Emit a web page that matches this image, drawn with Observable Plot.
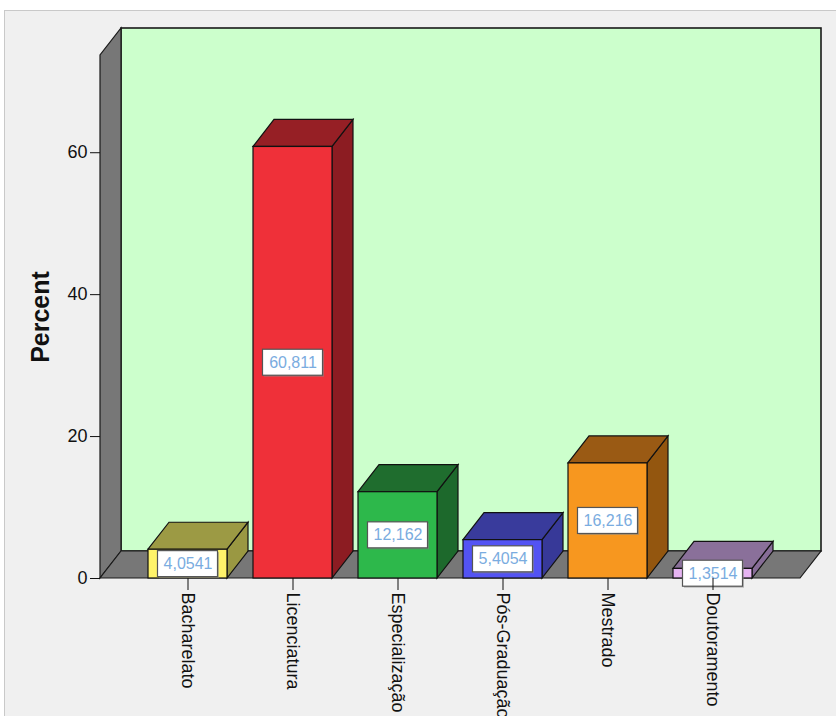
<!DOCTYPE html>
<html>
<head>
<meta charset="utf-8">
<script src="https://cdn.jsdelivr.net/npm/d3@7"></script>
<script src="https://cdn.jsdelivr.net/npm/@observablehq/plot@0.6"></script>
<style>
  html, body { margin: 0; padding: 0; background: #fff; }
  #panel {
    position: absolute; left: 4px; top: 10px;
    width: 832px; height: 706px;
    background: #f0f0f0;
    border-top: 1px solid #c9c9c9; border-left: 1px solid #c9c9c9;
  }
  #panel svg { display: block; }
</style>
</head>
<body>
<div id="panel"></div>
<script>
// Education level distribution (percent of respondents)
const categories = ["Bacharelato", "Licenciatura", "Especialização", "Pós-Graduação", "Mestrado", "Doutoramento"];
const percents = [4.0541, 60.811, 12.162, 5.4054, 16.216, 1.3514];
const frontColors = ["#fff36a", "#ef3039", "#2db84b", "#5353f3", "#f7971f", "#e6b4f2"];
const topColors = ["#9c9a44", "#961f25", "#1f6d2e", "#393b9c", "#9a5a14", "#8a709a"];
const sideColors = ["#9a9842", "#8c1c22", "#1d692c", "#373998", "#93560f", "#866c96"];
const yTicks = [0, 20, 40, 60];
const yMax = 73.7;

// pixel depth of the 3-D extrusion
const DX = 21, DY = -27;

const data = categories.map((c, i) => ({
  category: c,
  percent: percents[i],
  label: String(percents[i]).replace(".", ","),
  front: frontColors[i],
  top: topColors[i],
  side: sideColors[i]
}));

// back wall, left wall and floor of the chart box
function room(index, scales, values, dims) {
  const left = dims.marginLeft, right = dims.width - dims.marginRight;
  const base = scales.y(0), top = scales.y(yMax);
  const g = d3.create("svg:g");
  g.append("rect")
    .attr("x", left + DX).attr("y", top + DY)
    .attr("width", right - left).attr("height", base - top)
    .attr("fill", "#ccffcc").attr("stroke", "#1a1a1a").attr("stroke-width", 1.6);
  g.append("path")
    .attr("d", `M${left},${base}V${top}L${left + DX},${top + DY}V${base + DY}Z`)
    .attr("fill", "#777").attr("stroke", "#1a1a1a").attr("stroke-width", 1.2);
  g.append("path")
    .attr("d", `M${left},${base}H${right}L${right + DX},${base + DY}H${left + DX}Z`)
    .attr("fill", "#777").attr("stroke", "#1a1a1a").attr("stroke-width", 1.2);
  return g.node();
}

// top and side faces drawn behind each front face
function extrude(index, scales, values, dims, context, next) {
  const g = next(index, scales, values, dims, context);
  const faces = d3.create("svg:g");
  g.querySelectorAll("rect").forEach((r) => {
    const i = d3.select(r).datum();
    const x = +r.getAttribute("x"), y = +r.getAttribute("y");
    const w = +r.getAttribute("width"), h = +r.getAttribute("height");
    faces.append("path")
      .attr("d", `M${x + w},${y}L${x + w + DX},${y + DY}V${y + h + DY}L${x + w},${y + h}Z`)
      .attr("fill", data[i].side).attr("stroke", "#111").attr("stroke-width", 1.2);
    faces.append("path")
      .attr("d", `M${x},${y}L${x + DX},${y + DY}H${x + w + DX}L${x + w},${y}Z`)
      .attr("fill", data[i].top).attr("stroke", "#111").attr("stroke-width", 1.2);
  });
  g.insertBefore(faces.node(), g.firstChild);
  return g;
}

const chart = Plot.plot({
  width: 831,
  height: 705,
  marginLeft: 95,
  marginRight: 36,
  marginTop: 44,
  marginBottom: 138,
  style: {
    fontFamily: "'Liberation Sans', Arial, sans-serif",
    background: "transparent",
    color: "#111"
  },
  x: { domain: categories, paddingInner: 0.25, paddingOuter: 0.458, label: null },
  y: { domain: [0, yMax], label: null },
  color: { type: "identity" },
  marks: [
    room,
    Plot.barY(data, {
      x: "category", y: "percent", fill: "front",
      stroke: "#111", strokeWidth: 1.2,
      render: extrude
    }),
    // value label boxes centred on each bar
    Plot.barY(data, {
      x: "category", y1: (d) => d.percent / 2, y2: (d) => d.percent / 2,
      insetLeft: 9.5, insetRight: 9.5, insetTop: -13, insetBottom: -13,
      fill: "#888", fillOpacity: 0.55, dx: 1.5, dy: 1.5
    }),
    Plot.barY(data, {
      x: "category", y1: (d) => d.percent / 2, y2: (d) => d.percent / 2,
      insetLeft: 9.5, insetRight: 9.5, insetTop: -13, insetBottom: -13,
      fill: "white", stroke: "#555", strokeWidth: 1.2
    }),
    Plot.text(data, {
      x: "category", y: (d) => d.percent / 2, text: "label",
      fill: "#7aace0", fontSize: 16
    }),
    Plot.axisY(yTicks, { tickSize: 10, tickPadding: 3, fontSize: 18, label: null }),
    Plot.axisX({ tickRotate: 90, tickSize: 12, tickPadding: 2, fontSize: 18, label: null }),
    Plot.text(["Percent"], {
      frameAnchor: "left", dx: -60, rotate: -90,
      textAnchor: "middle", fontWeight: "bold", fontSize: 25, fill: "#111"
    })
  ]
});

document.getElementById("panel").appendChild(chart);
</script>
</body>
</html>
